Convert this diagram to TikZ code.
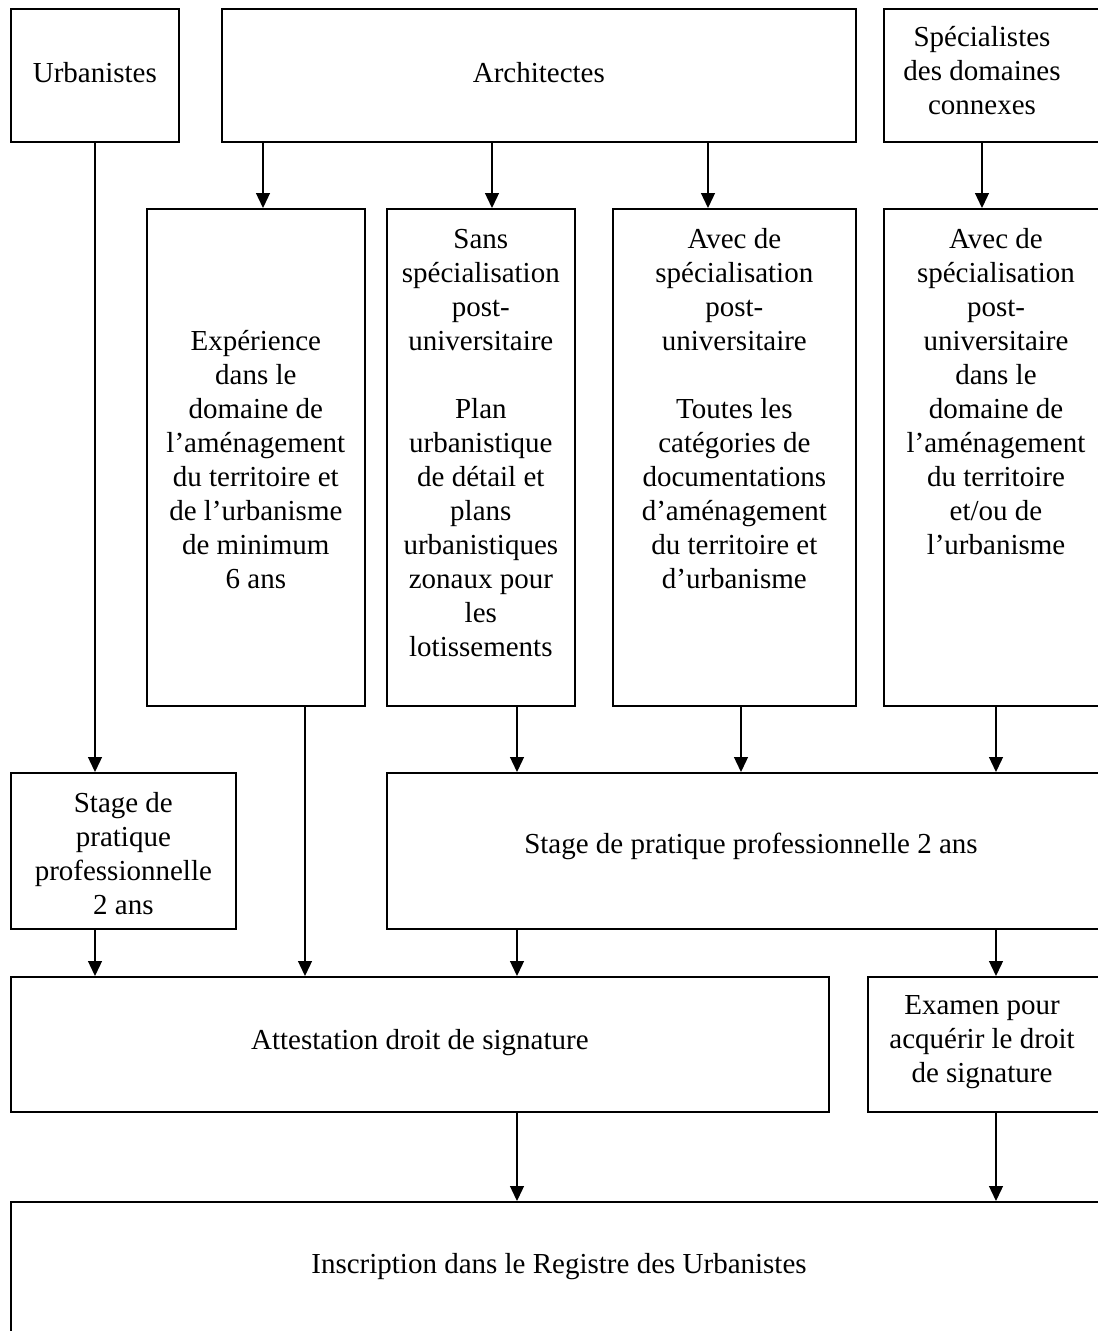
\documentclass[tikz,border=0pt]{standalone}
\usepackage{fontspec}
\setmainfont{Liberation Serif}
\usetikzlibrary{arrows.meta,calc}
\begin{document}
\begin{tikzpicture}[x=1pt,y=-1pt,
  box/.style={draw,line width=1.7pt,inner sep=0pt,anchor=north west},
  txt/.style={inner sep=0pt,align=center,font=\fontsize{29}{34}\selectfont},
  arr/.style={line width=1.3pt,-{Triangle[length=15pt,width=14pt]}},
  ln/.style={line width=1.3pt}]
\useasboundingbox (0,0) rectangle (1098,1331);
\clip (0,0) rectangle (1098,1331);
\fill[white] (0,0) rectangle (1098,1331);
% row 1
\node[box,minimum width=168pt,minimum height=133pt] (urb) at (10,8) {};
\node[box,minimum width=634pt,minimum height=133pt] (arch) at (221,8) {};
\node[box,minimum width=230pt,minimum height=133pt] (spec) at (883,8) {};
\node[txt] (turb) at ($(urb.center)+(0,-3)$) {Urbanistes};
\node[txt] (tarch) at ($(arch.center)+(0,-3)$) {Architectes};
\node[txt] (tspec) at (982,71) {Spécialistes\\des domaines\\connexes};
% row 2
\node[box,minimum width=218pt,minimum height=497pt] (exp) at (146,208) {};
\node[box,minimum width=188pt,minimum height=497pt] (sans) at (386,208) {};
\node[box,minimum width=243pt,minimum height=497pt] (avec) at (612,208) {};
\node[box,minimum width=230pt,minimum height=497pt] (avecr) at (883,208) {};
\node[txt] (texp) at ($(exp.center)+(0,2)$) {Expérience\\dans le\\domaine de\\l’aménagement\\du territoire et\\de l’urbanisme\\de minimum\\6 ans};
\node[txt,anchor=north] (tsans) at ($(sans.north)+(0,16)$) {\strut Sans\\spécialisation\\post-\\universitaire\\[34pt]Plan\\urbanistique\\de détail et\\plans\\urbanistiques\\zonaux pour\\les\\lotissements};
\node[txt,anchor=north] (tavec) at ($(avec.north)+(0,16)$) {\strut Avec de\\spécialisation\\post-\\universitaire\\[34pt]Toutes les\\catégories de\\documentations\\d’aménagement\\du territoire et\\d’urbanisme};
\node[txt,anchor=north] (tavecr) at (996,224) {\strut Avec de\\spécialisation\\post-\\universitaire\\dans le\\domaine de\\l’aménagement\\du territoire\\et/ou de\\l’urbanisme};
% row 3
\node[box,minimum width=225pt,minimum height=156pt] (stl) at (10,772) {};
\node[box,minimum width=730pt,minimum height=156pt] (stb) at (386,772) {};
\node[txt] (tstl) at ($(stl.center)+(0,3)$) {Stage de\\pratique\\professionnelle\\2 ans};
\node[txt] (tstb) at (751,846) {Stage de pratique professionnelle 2 ans};
% row 4
\node[box,minimum width=818pt,minimum height=135pt] (att) at (10,976) {};
\node[box,minimum width=250pt,minimum height=135pt] (exa) at (867,976) {};
\node[txt] (tatt) at ($(att.center)+(0,-2)$) {Attestation droit de signature};
\node[txt] (texa) at (982,1042) {Examen pour\\acquérir le droit\\de signature};
% row 5
\node[box,minimum width=1100pt,minimum height=140pt] (ins) at (10,1201) {};
\node[txt] (tins) at (559,1267) {Inscription dans le Registre des Urbanistes};
% x positions
\coordinate (x95) at (95,0);
\coordinate (x263) at (263,0);
\coordinate (x305) at (305,0);
\coordinate (x492) at (492,0);
\coordinate (x517) at (517,0);
\coordinate (x708) at (708,0);
\coordinate (x741) at (741,0);
\coordinate (x982) at (982,0);
\coordinate (x996) at (996,0);
% arrows
\draw[arr] (x95 |- urb.south) -- (x95 |- stl.north);
\draw[arr] (x263 |- arch.south) -- (x263 |- exp.north);
\draw[arr] (x492 |- arch.south) -- (x492 |- sans.north);
\draw[arr] (x708 |- arch.south) -- (x708 |- avec.north);
\draw[arr] (x982 |- spec.south) -- (x982 |- avecr.north);
\draw[arr] (x517 |- sans.south) -- (x517 |- stb.north);
\draw[arr] (x741 |- avec.south) -- (x741 |- stb.north);
\draw[arr] (x996 |- avecr.south) -- (x996 |- stb.north);
\draw[arr] (x95 |- stl.south) -- (x95 |- att.north);
\draw[arr] (x305 |- exp.south) -- (x305 |- att.north);
\draw[arr] (x517 |- stb.south) -- (x517 |- att.north);
\draw[arr] (x996 |- stb.south) -- (x996 |- exa.north);
\draw[arr] (x517 |- att.south) -- (x517 |- ins.north);
\draw[arr] (x996 |- exa.south) -- (x996 |- ins.north);
\end{tikzpicture}
\end{document}
